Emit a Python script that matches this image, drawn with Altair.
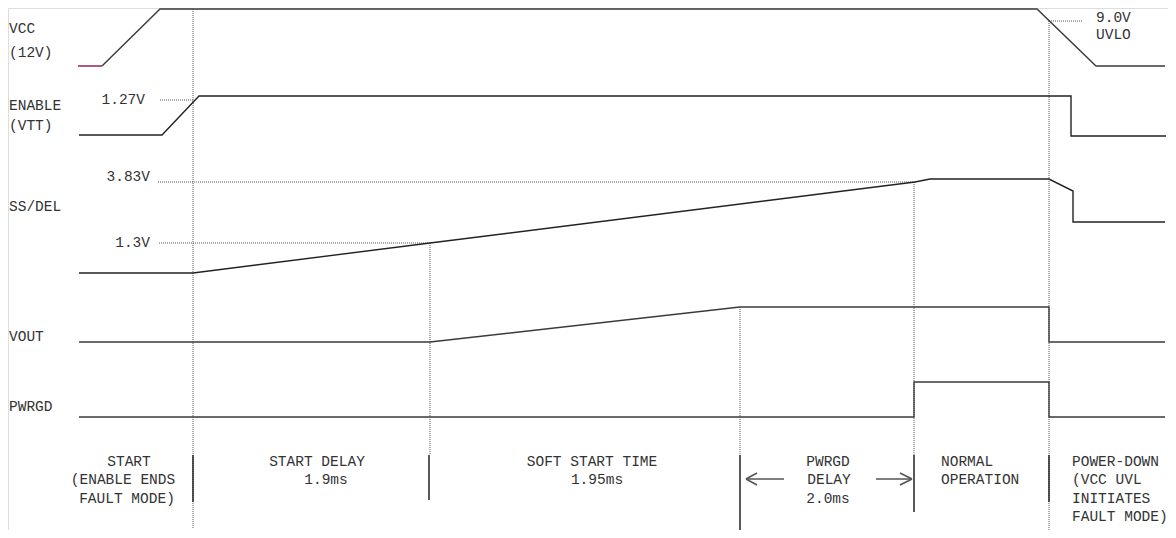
import altair as alt
import pandas as pd

# ---- waveform data (t = diagram time units, y = diagram level units, downwards) ----
sig_names = ["VCC_OFF", "VCC", "ENABLE", "SSDEL", "VOUT", "PWRGD"]
vcc_off_t = [78, 102]
vcc_off_y = [66, 66]
vcc_t = [102, 160, 1037, 1096, 1165]
vcc_y = [66, 9, 9, 66, 66]
en_t = [79, 162, 199, 1071, 1071, 1166]
en_y = [135, 135, 96, 96, 136, 136]
ss_t = [79, 193, 430, 915, 930, 1049, 1073, 1073, 1165]
ss_y = [273, 273, 243, 182, 179, 179, 191, 222, 222]
vout_t = [79, 430, 740, 1049, 1049, 1165]
vout_y = [342, 342, 307, 307, 342, 342]
pg_t = [79, 914, 914, 1049, 1049, 1165]
pg_y = [417, 417, 382, 382, 417, 417]

# ---- dotted reference guides ----
hguide_t1 = [160, 158, 159, 1049]
hguide_t2 = [193, 915, 430, 1083]
hguide_y = [100, 182, 243, 21]
vguide_t = [193, 430, 740, 914, 1049]
vguide_y1 = [9, 243, 307, 182, 21]
vguide_y2 = [528, 455, 455, 455, 538]

# ---- solid phase dividers ----
div_t = [193, 429, 740, 914, 1049]
div_y1 = [455, 455, 455, 455, 455]
div_y2 = [502, 500, 538, 512, 502]

# ---- arrows (shaft + head) ----
arr_x1 = [784, 746, 746, 876, 912, 912]
arr_x2 = [746, 757, 757, 912, 900, 900]
arr_y1 = [479, 479, 479, 479, 479, 479]
arr_y2 = [479, 473, 485, 479, 473, 485]

# ---- signal labels ----
lab_text = ["VCC", "(12V)", "ENABLE", "(VTT)", "SS/DEL", "VOUT", "PWRGD"]
lab_t = [9, 9, 9, 9, 9, 9, 9]
lab_y = [29, 53, 106, 126, 207, 337, 407]

# ---- voltage level labels ----
lvl_text = ["1.27V", "3.83V", "1.3V", "9.0V", "UVLO"]
lvl_t = [145, 150, 150, 1096, 1096]
lvl_y = [100, 177, 243, 18, 35]
lvl_align = ["right", "right", "right", "left", "left"]

# ---- phase descriptions ----
ph_text = ["START", "(ENABLE ENDS", "FAULT MODE)",
           "START DELAY", "1.9ms",
           "SOFT START TIME", "1.95ms",
           "PWRGD", "DELAY", "2.0ms",
           "NORMAL", "OPERATION",
           "POWER-DOWN", "(VCC UVL", "INITIATES", "FAULT MODE)"]
ph_t = [129, 123, 127, 317, 326, 592, 597, 828, 829, 828,
        941, 941, 1072, 1072, 1072, 1072]
ph_y = [462, 480, 499, 462, 480, 462, 480, 462, 480, 499,
        462, 480, 462, 480, 499, 517]
ph_align = ["center"] * 10 + ["left"] * 6

rows = []
for name, ts, ys in zip(sig_names, [vcc_off_t, vcc_t, en_t, ss_t, vout_t, pg_t],
                        [vcc_off_y, vcc_y, en_y, ss_y, vout_y, pg_y]):
    for i, (t, y) in enumerate(zip(ts, ys)):
        rows.append({"sig": name, "i": i, "t": t, "y": y})
wave = pd.DataFrame(rows)

X = alt.Scale(domain=[8, 1168])
Y = alt.Scale(domain=[8, 530], reverse=True)
FONT = "Liberation Mono"
FS = 14.5

def xq(f):
    return alt.X(f, type="quantitative", scale=X, axis=None)

def yq(f):
    return alt.Y(f, type="quantitative", scale=Y, axis=None)

waves = alt.Chart(wave).mark_line(strokeWidth=1.4, interpolate="linear").encode(
    x=xq("t"), y=yq("y"), detail="sig:N", order="i:Q",
    color=alt.Color("sig:N", scale=alt.Scale(
        domain=sig_names,
        range=["#8b1450", "#3a3a3a", "#222222", "#222222", "#3a3a3a", "#3a3a3a"]),
        legend=None),
)

hg = alt.Chart(pd.DataFrame({"t1": hguide_t1, "t2": hguide_t2, "y": hguide_y})).mark_rule(
    strokeDash=[1, 1], strokeWidth=1, color="#555555").encode(
    x=xq("t1"), x2="t2", y=yq("y"))

vg = alt.Chart(pd.DataFrame({"t": vguide_t, "y1": vguide_y1, "y2": vguide_y2})).mark_rule(
    strokeDash=[1, 1], strokeWidth=1, color="#555555").encode(
    x=xq("t"), y=yq("y1"), y2="y2")

dv = alt.Chart(pd.DataFrame({"t": div_t, "y1": div_y1, "y2": div_y2})).mark_rule(
    strokeWidth=1.5, color="#222222").encode(
    x=xq("t"), y=yq("y1"), y2="y2")

ar = alt.Chart(pd.DataFrame({"x1": arr_x1, "x2": arr_x2, "y1": arr_y1, "y2": arr_y2})).mark_rule(
    strokeWidth=1.6, color="#555555").encode(
    x=xq("x1"), x2="x2", y=yq("y1"), y2="y2")

labs = alt.Chart(pd.DataFrame({"txt": lab_text, "t": lab_t, "y": lab_y})).mark_text(
    align="left", baseline="middle", font=FONT, fontSize=FS, color="#333333").encode(
    x=xq("t"), y=yq("y"), text="txt:N")

def text_layer(txts, ts, ys, aligns):
    df = pd.DataFrame({"txt": txts, "t": ts, "y": ys, "a": aligns})
    layers = []
    for a in ["left", "center", "right"]:
        sub = df[df["a"] == a]
        if len(sub):
            layers.append(alt.Chart(sub).mark_text(
                align=a, baseline="middle", font=FONT, fontSize=FS, color="#333333").encode(
                x=xq("t"), y=yq("y"), text="txt:N"))
    return layers

chart = alt.layer(
    hg, vg, dv, ar, waves, labs,
    *text_layer(lvl_text, lvl_t, lvl_y, lvl_align),
    *text_layer(ph_text, ph_t, ph_y, ph_align),
).properties(
    width=1160, height=522, padding=0, autosize="none"
).configure_view(stroke=None).configure(background="white")

chart.save("out.html", embed_options={"renderer": "svg", "actions": False})
